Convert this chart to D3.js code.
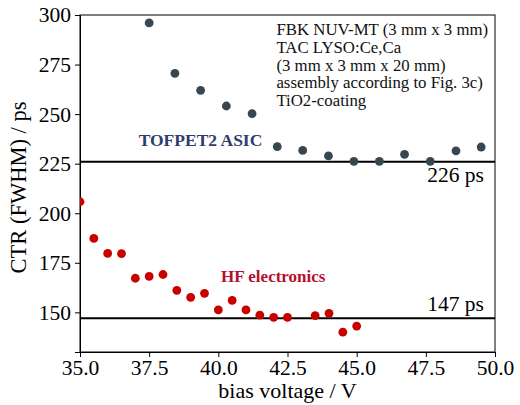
<!DOCTYPE html>
<html>
<head>
<meta charset="utf-8">
<script src="https://cdn.jsdelivr.net/npm/d3@7"></script>
<style>
  body { margin: 0; background: #fff; }
  svg { display: block; font-family: "Liberation Serif", "DejaVu Serif", serif; }
</style>
</head>
<body>
<div id="chart"></div>
<script>
// TOFPET2 ASIC measurements
const tofX = [37.5, 38.43, 39.36, 40.29, 41.22, 42.13, 43.05, 43.98, 44.9, 45.82, 46.73, 47.66, 48.59, 49.5]
const tofY = [296, 270.6, 262, 254.1, 250.2, 233.6, 231.7, 228.9, 226.2, 226.2, 229.7, 226.2, 231.5, 233.4]
// HF electronics measurements
const hfX = [35, 35.5, 36, 36.5, 37, 37.5, 38, 38.5, 39, 39.5, 40, 40.5, 41, 41.5, 42, 42.5, 43.5, 44, 44.5, 45]
const hfY = [205.8, 187.3, 179.8, 179.6, 167.2, 168.1, 169.1, 161.1, 157.6, 159.6, 151.2, 156.0, 151.2, 148.6, 147.5, 147.5, 148.3, 149.5, 140.0, 143.1]
// best values (horizontal lines)
const bestLevels = [226, 147]
const bestLabels = ["226 ps", "147 ps"]
const xTicks = [35, 37.5, 40, 42.5, 45, 47.5, 50]
const yTicks = [150, 175, 200, 225, 250, 275, 300]
const noteLines = [
  "FBK NUV-MT (3 mm x 3 mm)",
  "TAC LYSO:Ce,Ca",
  "(3 mm x 3 mm x 20 mm)",
  "assembly according to Fig. 3c)",
  "TiO2-coating"
]

const W = 520, H = 405
const margin = { top: 15, right: 25, bottom: 53, left: 80 }
const w = W - margin.left - margin.right
const h = H - margin.top - margin.bottom
const serif = "'Liberation Serif', 'DejaVu Serif', serif"

const svg = d3.select("#chart").append("svg")
  .attr("width", W)
  .attr("height", H)

const g = svg.append("g")
  .attr("transform", "translate(" + margin.left + "," + margin.top + ")")

const x = d3.scaleLinear().domain([35, 50]).range([0, w])
const y = d3.scaleLinear().domain([130, 300]).range([h, 0])

svg.append("defs").append("clipPath").attr("id", "clip")
  .append("rect").attr("width", w).attr("height", h)

// axes
const xAxis = g.append("g")
  .attr("transform", "translate(0," + h + ")")
  .call(d3.axisBottom(x).tickValues(xTicks).tickFormat(d3.format(".1f")).tickSizeOuter(0).tickSize(5).tickPadding(3))
const yAxis = g.append("g")
  .call(d3.axisLeft(y).tickValues(yTicks).tickFormat(d3.format("d")).tickSizeOuter(0).tickSize(5).tickPadding(4))

;[xAxis, yAxis].forEach(a => {
  a.attr("font-family", serif).attr("font-size", 21.5)
  a.selectAll("text").attr("fill", "#000")
  a.selectAll("line").attr("stroke", "#000")
  a.select(".domain").attr("stroke", "#000")
})

// frame
g.append("rect")
  .attr("width", w)
  .attr("height", h)
  .attr("fill", "none")
  .attr("stroke", "#000")
  .attr("stroke-width", 1)

const plot = g.append("g").attr("clip-path", "url(#clip)")

// reference lines
plot.selectAll(".best")
  .data(bestLevels)
  .enter()
  .append("line")
  .attr("x1", 0)
  .attr("x2", w)
  .attr("y1", d => y(d))
  .attr("y2", d => y(d))
  .attr("stroke", "#000")
  .attr("stroke-width", 2)

g.selectAll(".bestLabel")
  .data(bestLevels)
  .enter()
  .append("text")
  .attr("x", x(49.6))
  .attr("y", (d, i) => i === 0 ? y(d) + 20 : y(d) - 7)
  .attr("text-anchor", "end")
  .style("font-size", "21.5px")
  .text((d, i) => bestLabels[i])

// points
plot.selectAll(".tof")
  .data(tofX)
  .enter()
  .append("circle")
  .attr("cx", d => x(d))
  .attr("cy", (d, i) => y(tofY[i]))
  .attr("r", 4.4)
  .attr("fill", "#37474f")

plot.selectAll(".hf")
  .data(hfX)
  .enter()
  .append("circle")
  .attr("cx", d => x(d))
  .attr("cy", (d, i) => y(hfY[i]))
  .attr("r", 4.4)
  .attr("fill", "#c80000")

// series labels
g.append("text")
  .attr("x", x(37.12))
  .attr("y", y(233.9))
  .style("font-size", "17.5px")
  .style("font-weight", "bold")
  .attr("fill", "#2e3d6b")
  .text("TOFPET2 ASIC")

g.append("text")
  .attr("x", x(40.1))
  .attr("y", y(165.3))
  .style("font-size", "17px")
  .style("font-weight", "bold")
  .attr("fill", "#b3102e")
  .text("HF electronics")

// note
g.append("text")
  .attr("x", x(42.1))
  .attr("y", 20)
  .style("font-size", "16.8px")
  .attr("fill", "#111")
  .selectAll("tspan")
  .data(noteLines)
  .enter()
  .append("tspan")
  .attr("x", x(42.1))
  .attr("dy", (d, i) => i === 0 ? 0 : 17.8)
  .text(d => d)

// axis titles
svg.append("text")
  .attr("x", margin.left + w / 2)
  .attr("y", 398)
  .attr("text-anchor", "middle")
  .style("font-size", "22px")
  .text("bias voltage / V")

svg.append("text")
  .attr("transform", "translate(26,187.5) rotate(-90)")
  .attr("text-anchor", "middle")
  .style("font-size", "22.5px")
  .text("CTR (FWHM) / ps")
</script>
</body>
</html>
